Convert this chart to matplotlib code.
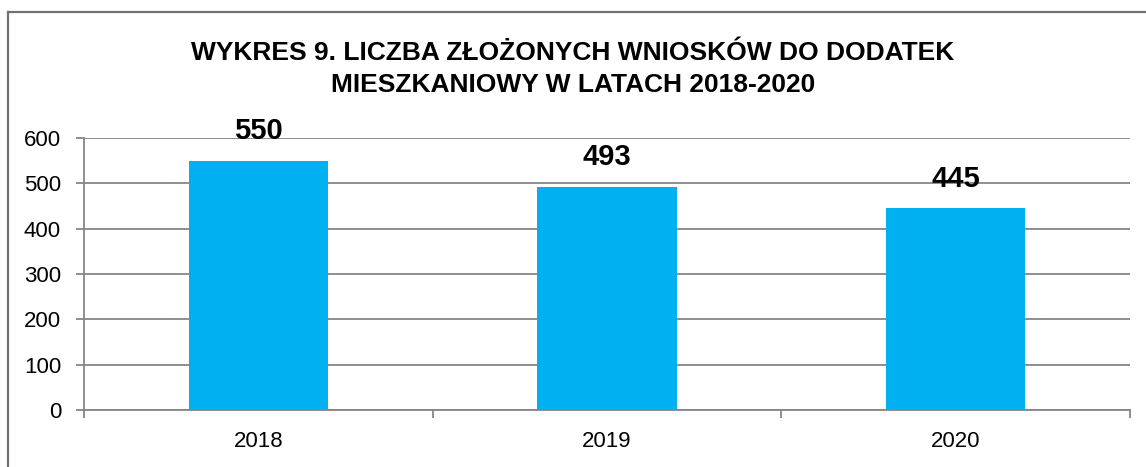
import matplotlib
matplotlib.use("Agg")
import matplotlib.pyplot as plt
from matplotlib import font_manager as fm
from matplotlib.lines import Line2D

categories = ["2018", "2019", "2020"]
values = [550, 493, 445]
yticks = [0, 100, 200, 300, 400, 500, 600]
title = "WYKRES 9. LICZBA ZŁOŻONYCH WNIOSKÓW DO DODATEK\nMIESZKANIOWY W LATACH 2018-2020"

names = {f.name for f in fm.fontManager.ttflist}
narrow = "Liberation Sans Narrow" if "Liberation Sans Narrow" in names else "Liberation Sans"
plt.rcParams['font.family'] = [narrow, "DejaVu Sans"]

W, H = 1146, 467
fig = plt.figure(figsize=(W/100, H/100), dpi=100)
# outer chart border (top and left visible)
bc = "#707070"
fig.lines.append(Line2D([7.5/W, 1], [1 - 11.5/H, 1 - 11.5/H], transform=fig.transFigure,
                        color=bc, linewidth=1.6))
fig.lines.append(Line2D([7.5/W, 7.5/W], [0, 1 - 11.5/H], transform=fig.transFigure,
                        color=bc, linewidth=1.6))

x0, x1 = 84, 1130
y0, y1 = 410, 138
ax = fig.add_axes([x0/W, (H-y0)/H, (x1-x0)/W, (y0-y1)/H])
x = list(range(len(categories)))
ax.bar(x, values, width=0.4, color="#00B0F0", zorder=3)
ax.set_xlim(-0.5, len(categories)-0.5)
ax.set_ylim(0, 600)
ax.set_yticks(yticks)
ax.set_yticklabels([str(t) for t in yticks], fontsize=16)
ax.yaxis.grid(True, color="#868686", linewidth=1.3, zorder=0)
ax.set_xticks(x)
ax.set_xticklabels(categories, fontsize=16)
ax.tick_params(axis='x', length=0, pad=15)
ax.tick_params(axis='y', length=5.5, color="#868686", width=1.3, pad=11)
ax.set_xticks([-0.5, 0.5, 1.5, 2.5], minor=True)
ax.tick_params(axis='x', which='minor', length=5.5, color="#868686", width=1.3)
for s in ["top", "right"]:
    ax.spines[s].set_visible(False)
for s in ["left", "bottom"]:
    ax.spines[s].set_color("#868686")
    ax.spines[s].set_linewidth(1.3)

for xi, v in zip(x, values):
    ax.annotate(str(v), (xi, v), xytext=(0, 11), textcoords="offset points",
                ha="center", va="bottom", fontsize=21, fontweight="bold", zorder=5)

fig.text(0.5, 1 - 69/H, title, ha="center", va="center", fontsize=19,
         fontweight="bold", linespacing=1.45)

fig.savefig("out.png", dpi=100)
